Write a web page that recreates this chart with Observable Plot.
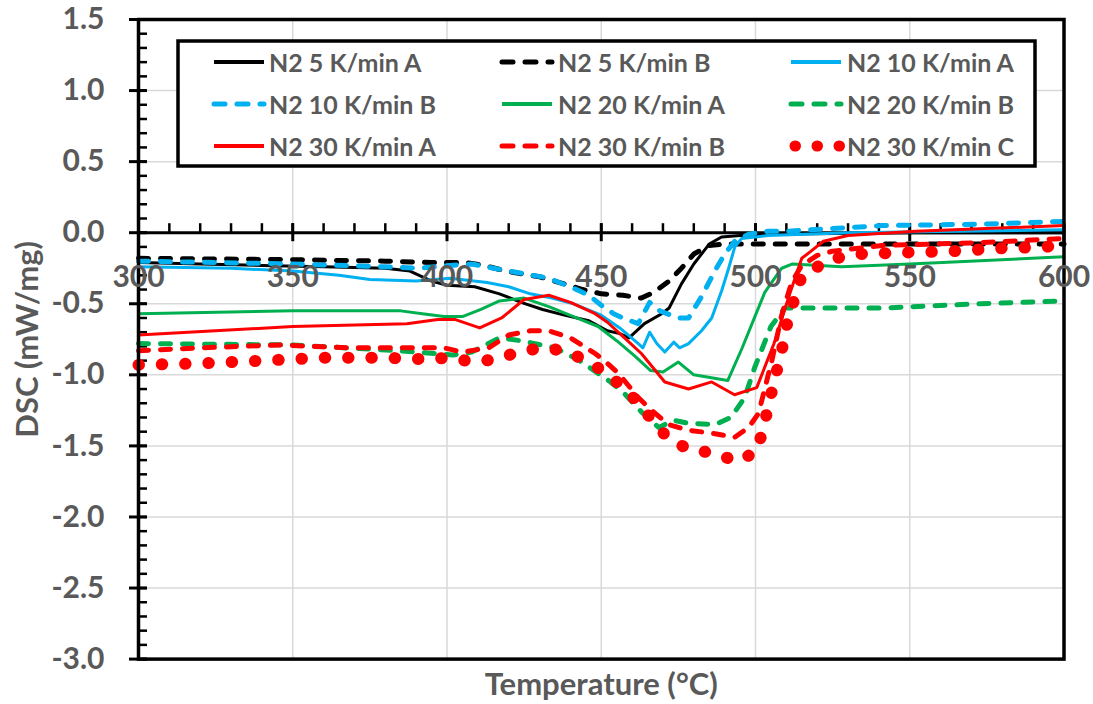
<!DOCTYPE html>
<html>
<head>
<meta charset="utf-8">
<script src="https://cdn.jsdelivr.net/npm/d3@7"></script>
<script src="https://cdn.jsdelivr.net/npm/@observablehq/plot@0.6"></script>
<style>
  html, body { margin: 0; padding: 0; background: #fff; }
  #wrap { position: relative; width: 1093px; height: 704px; }
  #legend { position: absolute; left: 0; top: 0; }
</style>
</head>
<body>
<div id="wrap"></div>
<script>
// ---------------- data (Temperature °C, DSC mW/mg) ----------------
const n2_5A = [[300,-0.21],[320,-0.22],[340,-0.23],[360,-0.24],[380,-0.25],[388,-0.27],[395,-0.34],[400,-0.37],[409,-0.38],[417,-0.43],[424,-0.49],[431,-0.54],[438,-0.58],[446,-0.62],[452,-0.69],[456,-0.71],[459,-0.74],[464,-0.64],[469.6,-0.57],[472,-0.53],[476,-0.36],[480,-0.22],[485,-0.08],[489,-0.03],[495,-0.02],[510,-0.01],[550,0.0],[600,0.0]];
const n2_5B = [[300,-0.18],[350,-0.19],[380,-0.20],[395,-0.21],[406,-0.21],[412,-0.23],[419,-0.27],[430,-0.31],[438,-0.36],[444,-0.40],[450,-0.43],[457,-0.44],[463,-0.46],[467,-0.42],[472,-0.34],[476,-0.25],[480,-0.15],[485,-0.09],[490,-0.08],[530,-0.08],[600,-0.08]];
const n2_10A = [[300,-0.24],[330,-0.25],[350,-0.27],[365,-0.30],[375,-0.33],[390,-0.34],[401,-0.32],[413,-0.35],[420,-0.38],[427,-0.43],[434,-0.46],[441,-0.50],[450,-0.58],[456,-0.67],[462,-0.78],[463.5,-0.81],[465.7,-0.70],[468,-0.78],[470.6,-0.84],[473.5,-0.77],[475.4,-0.81],[478.3,-0.78],[482.5,-0.69],[485.8,-0.60],[489,-0.41],[491.3,-0.25],[493.3,-0.10],[495.5,-0.04],[504,-0.02],[530,0.0],[600,0.02]];
const n2_10B = [[300,-0.20],[350,-0.22],[380,-0.24],[391,-0.25],[401,-0.23],[408,-0.22],[420,-0.27],[433,-0.32],[441,-0.39],[446,-0.44],[450,-0.51],[454,-0.57],[457,-0.60],[462,-0.64],[465.7,-0.49],[469,-0.55],[475,-0.60],[478.3,-0.60],[482.5,-0.45],[486.8,-0.27],[490,-0.15],[493.3,-0.06],[497.8,-0.01],[504,0.01],[510,0.01],[541,0.05],[573,0.06],[600,0.08]];
const n2_20A = [[300,-0.57],[350,-0.55],[385,-0.55],[392,-0.57],[399,-0.59],[405,-0.59],[411,-0.54],[417,-0.48],[425,-0.46],[433,-0.52],[441,-0.59],[449,-0.66],[455,-0.76],[461,-0.87],[466,-0.97],[470,-0.98],[475,-0.91],[480,-1.00],[491,-1.04],[495.5,-0.82],[503,-0.42],[508.5,-0.25],[512,-0.22],[528,-0.24],[550,-0.22],[600,-0.17]];
const n2_20B = [[300,-0.78],[350,-0.79],[384,-0.83],[402,-0.86],[408,-0.84],[417,-0.74],[424,-0.76],[435,-0.81],[443,-0.90],[449,-0.99],[453,-1.05],[457,-1.12],[463,-1.26],[468.6,-1.37],[473.5,-1.32],[478,-1.34],[487,-1.35],[492,-1.30],[496.5,-1.16],[499.7,-0.95],[505,-0.66],[509.5,-0.53],[515,-0.53],[541,-0.53],[573,-0.50],[600,-0.48]];
const n2_30A = [[300,-0.72],[350,-0.66],[387,-0.64],[397,-0.61],[402.5,-0.61],[410.6,-0.67],[417.7,-0.60],[425,-0.47],[433,-0.44],[440,-0.49],[448,-0.57],[452,-0.63],[457,-0.73],[463,-0.85],[470.6,-1.05],[478.3,-1.10],[485.8,-1.05],[493.2,-1.14],[500.4,-1.09],[506,-0.78],[510.8,-0.45],[515,-0.18],[518,-0.13],[522,-0.06],[530,-0.02],[552,0.01],[600,0.05]];
const n2_30B = [[300,-0.83],[320,-0.81],[346,-0.79],[368,-0.81],[390,-0.81],[399,-0.81],[405,-0.84],[413.5,-0.81],[420,-0.72],[427,-0.69],[433,-0.69],[440,-0.74],[448,-0.85],[451,-0.90],[455.6,-0.99],[462,-1.16],[466.3,-1.25],[471.8,-1.35],[478.3,-1.39],[485.8,-1.41],[493.2,-1.44],[497.8,-1.37],[501,-1.27],[505.3,-0.90],[508.5,-0.58],[511.7,-0.35],[515,-0.23],[520,-0.16],[525,-0.13],[541,-0.09],[573,-0.07],[600,-0.04]];
const n2_30C = [[300,-0.93],[320,-0.92],[340,-0.90],[360,-0.88],[380,-0.88],[393,-0.89],[401,-0.88],[408.6,-0.91],[416,-0.89],[423,-0.84],[430.7,-0.81],[438,-0.83],[445.3,-0.90],[451,-0.98],[457.3,-1.09],[462.5,-1.21],[467.3,-1.34],[472.2,-1.46],[479.3,-1.53],[486.8,-1.55],[493.9,-1.61],[500.4,-1.54],[502.6,-1.37],[505.9,-1.06],[508.5,-0.83],[510.8,-0.58],[513.4,-0.42],[515,-0.30],[519,-0.26],[522.4,-0.20],[526,-0.18],[533.5,-0.15],[548,-0.14],[564,-0.13],[579,-0.11],[594,-0.10],[600,-0.08]];

const seriesNames = ["N2 5 K/min A","N2 5 K/min B","N2 10 K/min A","N2 10 K/min B","N2 20 K/min A","N2 20 K/min B","N2 30 K/min A","N2 30 K/min B","N2 30 K/min C"];
const seriesData  = [n2_5A, n2_5B, n2_10A, n2_10B, n2_20A, n2_20B, n2_30A, n2_30B, n2_30C];

// tick / grid values
const xMajor = [300,350,400,450,500,550,600];
const xMinor = d3.range(300, 601, 10);
const yMajor = [1.5,1.0,0.5,0.0,-0.5,-1.0,-1.5,-2.0,-2.5,-3.0];
const yMinor = d3.range(-30, 16).map(i => i / 10);
const xGridVals = [350,400,450,500,550];
const yGridVals = [1.0,0.5,-0.5,-1.0,-1.5,-2.0,-2.5];
const xAxisCross = 0;

// ---------------- styles ----------------
const seriesColors = ["#000000","#000000","#00B0F0","#00B0F0","#00B050","#00B050","#FF0000","#FF0000","#FF0000"];
const seriesKind   = ["solid","dash","solid","dash","solid","dash","solid","dash","dot"];
const kindStyle = {
  solid: {strokeWidth: 3, strokeDasharray: null, strokeLinecap: "round"},
  dash:  {strokeWidth: 5, strokeDasharray: "10,12", strokeLinecap: "round"},
  dot:   {strokeWidth: 12, strokeDasharray: "0.5,22.8", strokeLinecap: "round"}
};
const textColor = "#595959";
const FONT = "Lato, 'Open Sans', sans-serif";

const W = 1093, H = 704, mL = 138, mR = 29.5, mT = 19, mB = 45.4;
const plotW = W - mL - mR;

const rows = [];
seriesData.forEach((arr, i) => arr.forEach(([t, v]) => rows.push({series: seriesNames[i], t, v})));

const lineMarks = seriesNames.map((name, i) => {
  const st = kindStyle[seriesKind[i]];
  return Plot.line(rows.filter(r => r.series === name), {
    x: "t", y: "v", stroke: seriesColors[i],
    strokeWidth: st.strokeWidth, strokeDasharray: st.strokeDasharray,
    strokeLinecap: st.strokeLinecap, strokeLinejoin: "round"
  });
});

const chart = Plot.plot({
  width: W, height: H,
  marginLeft: mL, marginRight: mR, marginTop: mT, marginBottom: mB,
  x: {domain: [300, 600], axis: null},
  y: {domain: [-3, 1.5], axis: null},
  style: {fontFamily: FONT, background: "#fff", overflow: "visible"},
  marks: [
    Plot.ruleX(xGridVals, {stroke: "#d9d9d9", strokeWidth: 1.5}),
    Plot.ruleY(yGridVals, {stroke: "#d9d9d9", strokeWidth: 1.5}),
    Plot.ruleY([xAxisCross], {stroke: "#000", strokeWidth: 3}),
    Plot.ruleX(xMinor, {y1: xAxisCross, y2: xAxisCross, insetTop: -9, insetBottom: 0, stroke: "#000", strokeWidth: 2.5}),
    Plot.ruleX(xMajor, {y1: xAxisCross, y2: xAxisCross, insetTop: -9, insetBottom: -9, stroke: "#000", strokeWidth: 3}),
    Plot.ruleY(yMinor, {insetLeft: 0, insetRight: plotW - 9, stroke: "#000", strokeWidth: 2.5}),
    Plot.ruleY(yMajor, {insetLeft: -9, insetRight: plotW - 9, stroke: "#000", strokeWidth: 3}),
    ...lineMarks,
    Plot.frame({stroke: "#000", strokeWidth: 3.5}),
    Plot.text(xMajor, {x: d => d, y: xAxisCross, dy: 44.5, text: d => String(d),
      fill: textColor, fontSize: 30, fontWeight: "bold", textAnchor: "middle", lineAnchor: "middle"}),
    Plot.text(yMajor, {y: d => d, frameAnchor: "left", dx: -34, text: d => d.toFixed(1),
      fill: textColor, fontSize: 30, fontWeight: "bold", textAnchor: "end", lineAnchor: "middle"}),
    Plot.text(["DSC (mW/mg)"], {frameAnchor: "left", dx: -110.5, rotate: -90, text: d => d,
      fill: textColor, fontSize: 31, fontWeight: "bold", textAnchor: "middle", lineAnchor: "middle"}),
    Plot.text(["Temperature (°C)"], {frameAnchor: "bottom", dy: 25.5, text: d => d,
      fill: textColor, fontSize: 31, fontWeight: "bold", textAnchor: "middle", lineAnchor: "middle"})
  ]
});

const wrap = document.getElementById("wrap");
wrap.appendChild(chart);

// ---------------- legend (overlay, inside the plot area) ----------------
const legBox = {x: 178, y: 41, w: 857, h: 125};
const colSwatchX = [36, 324, 613];
const colTextX = [91, 380, 669];
const rowY = [21, 63, 105];
const swLen = 50;

const leg = d3.select(wrap).append("svg")
  .attr("id", "legend")
  .attr("width", W).attr("height", H)
  .style("pointer-events", "none");
const g = leg.append("g").attr("transform", `translate(${legBox.x},${legBox.y})`);
g.append("rect").attr("x", 0).attr("y", 0).attr("width", legBox.w).attr("height", legBox.h)
  .attr("fill", "#fff").attr("stroke", "#000").attr("stroke-width", 3.5);

seriesNames.forEach((name, i) => {
  const c = i % 3, r = Math.floor(i / 3);
  const kind = seriesKind[i];
  const x0 = colSwatchX[c], y0 = rowY[r];
  const line = g.append("line")
    .attr("x1", x0 + (kind === "dot" ? 4 : 0)).attr("x2", x0 + swLen + (kind === "dot" ? 4 : 0))
    .attr("y1", y0).attr("y2", y0)
    .attr("stroke", seriesColors[i])
    .attr("stroke-width", kind === "solid" ? 4 : (kind === "dash" ? 5 : 11))
    .attr("stroke-linecap", kind === "solid" ? "butt" : "round");
  if (kind === "dash") line.attr("stroke-dasharray", "11,12");
  if (kind === "dot") line.attr("stroke-dasharray", "0.5,21.5");
  g.append("text")
    .attr("x", colTextX[c]).attr("y", y0)
    .attr("dominant-baseline", "central")
    .attr("fill", textColor)
    .style("font-family", FONT).style("font-weight", "bold").style("font-size", "25px")
    .text(name);
});
</script>
</body>
</html>
